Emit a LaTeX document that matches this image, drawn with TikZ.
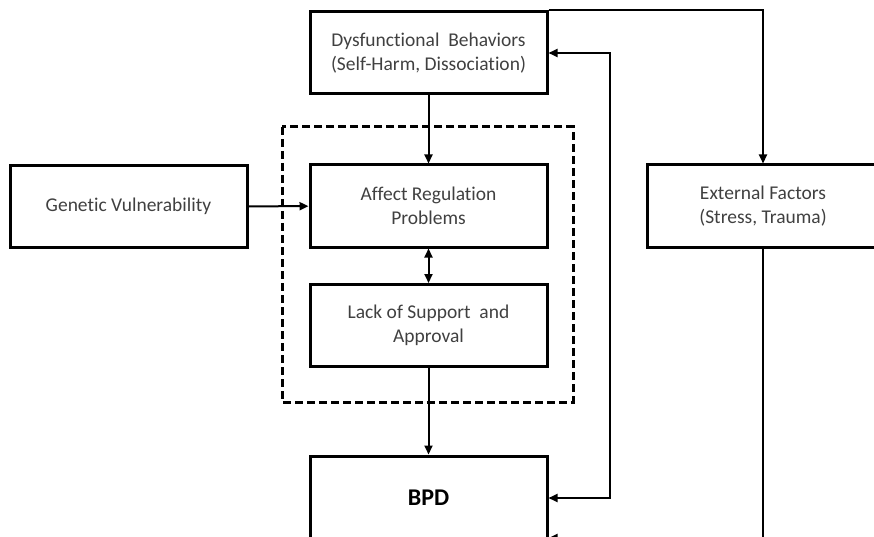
\documentclass[tikz,border=0pt]{standalone}
\usepackage{fontspec}
\setmainfont[Ligatures={NoCommon,NoContextual}]{Carlito}
\usetikzlibrary{arrows.meta}

\begin{document}
\begin{tikzpicture}[x=1pt, y=-1pt, >={Triangle[length=9pt, width=8pt]},
    box/.style={draw, line width=3pt, minimum width=237pt, minimum height=82pt,
        inner sep=0pt, align=center, font=\fontsize{19.5}{24}\selectfont, text=black!75},
    link/.style={line width=2pt}]
    \useasboundingbox (0, 0) rectangle (874, 537);

    \node[box] (dys) at (428.5, 53) {Dysfunctional~ Behaviors\\(Self-Harm, Dissociation)};
    \node[box] (aff) at (428.5, 206) {Affect Regulation\\Problems};
    \node[box] (lack) at (428.5, 325.5) {Lack of Support~ and\\Approval};
    \node[box, minimum height=84pt, font=\fontsize{24}{24}\selectfont\bfseries, text=black] (bpd) at (428.5, 498) {BPD};
    \node[box] (gen) at (128.5, 206.5) {Genetic Vulnerability};
    \node[box, minimum width=232pt] (ext) at (763, 206) {External Factors\\(Stress, Trauma)};

    \draw[line width=3pt, dash pattern=on 8pt off 4pt] (282, 127) rectangle (573, 402);

    \coordinate (ret) at (610, 53);
    \coordinate (extlow) at (763, 538);

    \draw[link, ->] (dys) -- (aff);
    \draw[link, ->] (gen) -- (aff);
    \draw[link, <->] (aff) -- (lack);
    \draw[link, ->] (lack) -- (bpd);
    \draw[link, ->] (dys.north east) -| (ext);
    \draw[link, <->] (dys.east |- ret) -- (ret) |- (bpd.east);
    \draw[link, ->] (ext) -- (extlow) -- (bpd.east |- extlow);
\end{tikzpicture}
\end{document}
